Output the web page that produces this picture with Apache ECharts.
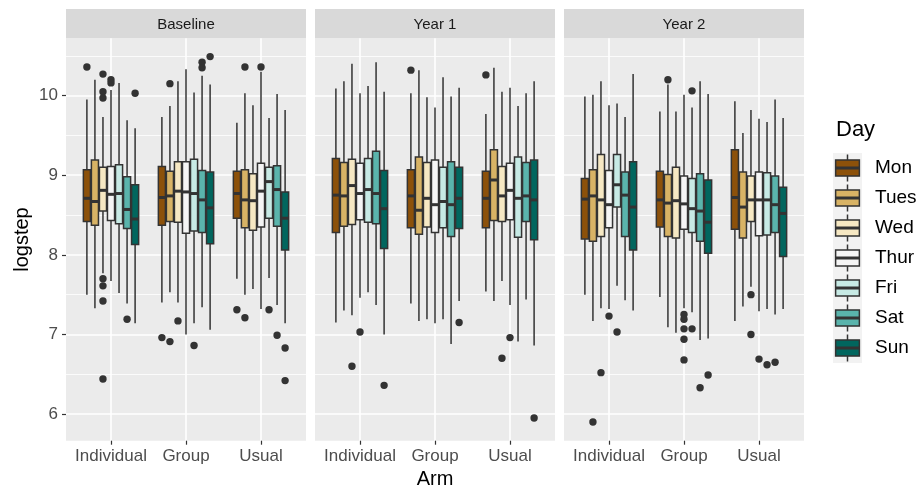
<!DOCTYPE html>
<html><head><meta charset="utf-8">
<script src="https://cdn.jsdelivr.net/npm/echarts@6/dist/echarts.min.js"></script>
<style>html,body{margin:0;padding:0;background:#fff}#chart{width:918px;height:488px}</style>
</head><body><div id="chart"></div>
<script>
// ---------- data ----------
const panels = ['Baseline', 'Year 1', 'Year 2'];
const arms = ['Individual', 'Group', 'Usual'];
const days = ['Mon', 'Tues', 'Wed', 'Thur', 'Fri', 'Sat', 'Sun'];
const yTicks = [6, 7, 8, 9, 10];
const yMinorTicks = [6.5, 7.5, 8.5, 9.5, 10.5];

// box stats per day: [lower whisker, q1, median, q3, upper whisker]
const baselineIndividual = [
  [7.50, 8.42, 8.71, 9.07, 9.95], [7.33, 8.37, 8.67, 9.19, 10.20], [7.77, 8.55, 8.81, 9.10, 9.73],
  [7.67, 8.43, 8.76, 9.11, 10.07], [7.52, 8.39, 8.77, 9.13, 10.16], [7.39, 8.33, 8.57, 8.98, 9.69],
  [7.14, 8.13, 8.45, 8.88, 9.59]];
const baselineGroup = [
  [7.40, 8.37, 8.72, 9.11, 9.73], [7.53, 8.42, 8.74, 9.05, 9.87], [7.40, 8.41, 8.80, 9.17, 10.18],
  [7.00, 8.27, 8.79, 9.17, 10.33], [7.14, 8.30, 8.77, 9.20, 10.04], [7.34, 8.28, 8.69, 9.06, 10.25],
  [7.06, 8.14, 8.59, 9.04, 10.14]];
const baselineUsual = [
  [7.70, 8.46, 8.77, 9.05, 9.66], [7.50, 8.34, 8.69, 9.07, 10.03], [7.57, 8.31, 8.68, 9.02, 9.88],
  [7.32, 8.35, 8.80, 9.15, 10.30], [7.71, 8.46, 8.92, 9.10, 9.72], [7.37, 8.36, 8.82, 9.12, 10.02],
  [7.14, 8.06, 8.46, 8.79, 9.82]];
const year1Individual = [
  [7.15, 8.28, 8.75, 9.21, 10.09], [7.30, 8.36, 8.74, 9.16, 10.18], [7.24, 8.38, 8.87, 9.20, 10.40],
  [7.46, 8.44, 8.77, 9.15, 10.03], [7.53, 8.41, 8.82, 9.21, 10.12], [7.37, 8.39, 8.77, 9.30, 10.42],
  [7.00, 8.08, 8.58, 9.06, 10.05]];
const year1Group = [
  [7.39, 8.34, 8.74, 9.07, 10.03], [7.17, 8.26, 8.56, 9.23, 10.32], [7.19, 8.35, 8.71, 9.16, 9.98],
  [7.14, 8.28, 8.63, 9.19, 9.85], [7.19, 8.34, 8.67, 9.10, 10.23], [6.88, 8.23, 8.63, 9.17, 9.99],
  [7.42, 8.33, 8.71, 9.10, 10.10]];
const year1Usual = [
  [7.54, 8.34, 8.71, 9.05, 9.77], [7.42, 8.43, 8.94, 9.32, 10.35], [7.67, 8.42, 8.74, 9.11, 10.05],
  [7.37, 8.44, 8.81, 9.15, 10.10], [6.91, 8.22, 8.71, 9.23, 9.87], [7.44, 8.42, 8.74, 9.16, 10.03],
  [6.86, 8.19, 8.69, 9.19, 10.18]];
const year2Individual = [
  [7.50, 8.20, 8.70, 8.96, 9.99], [7.17, 8.17, 8.74, 9.07, 10.01], [7.33, 8.23, 8.69, 9.26, 10.18],
  [7.32, 8.34, 8.63, 9.06, 9.88], [7.61, 8.60, 8.88, 9.26, 9.90], [7.43, 8.23, 8.75, 9.04, 9.73],
  [7.30, 8.06, 8.60, 9.17, 10.27]];
const year2Group = [
  [7.47, 8.35, 8.69, 9.05, 9.80], [7.09, 8.23, 8.65, 9.01, 10.14], [7.02, 8.21, 8.68, 9.10, 9.80],
  [7.33, 8.32, 8.64, 8.99, 10.01], [7.28, 8.28, 8.58, 8.96, 9.85], [6.93, 8.17, 8.55, 9.02, 10.18],
  [6.95, 8.02, 8.41, 8.94, 10.02]];
const year2Usual = [
  [7.17, 8.32, 8.72, 9.32, 9.93], [7.35, 8.21, 8.60, 9.04, 9.53], [7.60, 8.42, 8.69, 8.99, 9.82],
  [7.29, 8.24, 8.69, 9.04, 9.71], [7.32, 8.25, 8.69, 9.03, 9.67], [7.25, 8.28, 8.63, 8.99, 9.95],
  [7.32, 7.98, 8.52, 8.85, 9.72]];

// outliers: [arm index, day index, value]
const baselineOutliers = [
  [0,0,10.36],[0,2,10.27],[0,2,10.05],[0,2,9.97],[0,2,7.70],[0,2,7.61],[0,2,7.42],[0,2,6.44],
  [0,3,10.20],[0,3,10.16],[0,5,7.19],[0,6,10.03],
  [1,0,6.96],[1,1,10.15],[1,1,6.91],[1,2,7.17],[1,4,6.86],[1,5,10.42],[1,5,10.35],[1,6,10.49],
  [2,0,7.31],[2,1,10.36],[2,1,7.21],[2,3,10.36],[2,4,7.31],[2,5,6.99],[2,6,6.83],[2,6,6.42]];
const year1Outliers = [
  [0,2,6.60],[0,3,7.03],[0,6,6.36],[1,0,10.32],[1,6,7.15],
  [2,0,10.26],[2,2,6.70],[2,3,6.96],[2,6,5.95]];
const year2Outliers = [
  [0,1,5.90],[0,2,6.52],[0,3,7.23],[0,4,7.03],
  [1,1,10.20],[1,3,7.25],[1,3,7.19],[1,3,7.07],[1,3,6.94],[1,3,6.68],[1,4,10.06],[1,4,7.07],[1,5,6.33],[1,6,6.49],
  [2,2,7.50],[2,2,7.00],[2,3,6.69],[2,4,6.62],[2,5,6.65]];

// ---------- style / layout ----------
const dayColors = ['#8C510A', '#D8B365', '#F6E8C3', '#F5F5F5', '#C7EAE5', '#5AB4AC', '#01665E'];
const FONT = '"Liberation Sans", Arial, Helvetica, sans-serif';
const INK = '#333333';
const DODGE = 0.75, NDAY = days.length, STEP = DODGE / NDAY;
const Y_MIN = 5.665, Y_MAX = 10.72;

const panelStats = [
  [baselineIndividual, baselineGroup, baselineUsual],
  [year1Individual, year1Group, year1Usual],
  [year2Individual, year2Group, year2Usual]];
const panelOutliers = [baselineOutliers, year1Outliers, year2Outliers];

function boxData(p) {
  const out = [];
  panelStats[p].forEach((armStats, a) => {
    armStats.forEach((s, d) => out.push([a + 1, d].concat(s)));
  });
  return out;
}
function outlierData(p) {
  return panelOutliers[p].map(o => [o[0] + 1, o[1], o[2]]);
}

function renderBox(params, api) {
  const d = api.value(1);
  const x = api.value(0) + (d - (NDAY - 1) / 2) * STEP;
  const w = api.size([STEP * 0.88, 0])[0];
  const lo = api.coord([x, api.value(2)]);
  const q1 = api.coord([x, api.value(3)]);
  const md = api.coord([x, api.value(4)]);
  const q3 = api.coord([x, api.value(5)]);
  const hi = api.coord([x, api.value(6)]);
  const ls = { stroke: INK, lineWidth: 1.5 };
  return { type: 'group', children: [
    { type: 'line', shape: { x1: hi[0], y1: hi[1], x2: q3[0], y2: q3[1] }, style: ls },
    { type: 'line', shape: { x1: q1[0], y1: q1[1], x2: lo[0], y2: lo[1] }, style: ls },
    { type: 'rect', shape: { x: q3[0] - w / 2, y: q3[1], width: w, height: q1[1] - q3[1] },
      style: { fill: dayColors[d], stroke: INK, lineWidth: 1.5 } },
    { type: 'line', shape: { x1: md[0] - w / 2, y1: md[1], x2: md[0] + w / 2, y2: md[1] },
      style: { stroke: INK, lineWidth: 3 } }
  ]};
}
function renderOutlier(params, api) {
  const d = api.value(1);
  const x = api.value(0) + (d - (NDAY - 1) / 2) * STEP;
  const c = api.coord([x, api.value(2)]);
  return { type: 'circle', shape: { cx: c[0], cy: c[1], r: 3.7 }, style: { fill: INK } };
}
function renderKey(params, api) {
  const d = api.value(1);
  const c = api.coord([0.5, d]);
  const bh = api.size([0, 1])[1];
  const w = api.size([0.82, 0])[0];
  const ls = { stroke: INK, lineWidth: 1.5 };
  return { type: 'group', children: [
    { type: 'line', shape: { x1: c[0], y1: c[1] - bh * 0.45, x2: c[0], y2: c[1] + bh * 0.45 }, style: ls },
    { type: 'rect', shape: { x: c[0] - w / 2, y: c[1] - bh * 0.27, width: w, height: bh * 0.54 },
      style: { fill: dayColors[d], stroke: INK, lineWidth: 1.5 } },
    { type: 'line', shape: { x1: c[0] - w / 2, y1: c[1], x2: c[0] + w / 2, y2: c[1] },
      style: { stroke: INK, lineWidth: 3 } }
  ]};
}

const PANEL_LEFT = [66, 315, 564], PANEL_W = 240, PANEL_TOP = 38.3, PANEL_H = 402.4;
const grid = [], xAxis = [], yAxis = [], series = [];

// panel grids 0..2
PANEL_LEFT.forEach(l => grid.push({ left: l, top: PANEL_TOP, width: PANEL_W, height: PANEL_H,
  show: true, backgroundColor: '#EBEBEB', borderWidth: 0, containLabel: false, outerBoundsMode: 'none' }));
// strip grids 3..5
PANEL_LEFT.forEach(l => grid.push({ left: l, top: 9, width: PANEL_W, height: 29.3,
  show: true, backgroundColor: '#D9D9D9', borderWidth: 0, containLabel: false, outerBoundsMode: 'none' }));
// legend key grid 6
grid.push({ left: 833, top: 153, width: 29, height: 210, show: true, backgroundColor: '#F2F2F2',
  borderWidth: 0, containLabel: false, outerBoundsMode: 'none' });

// x axes
PANEL_LEFT.forEach((l, i) => {
  const ax = {
    type: 'value', gridIndex: i, min: 0.4, max: 3.6,
    axisLine: { show: false },
    axisTick: { show: true, customValues: [1, 2, 3], length: 4, lineStyle: { color: INK, width: 1.2 } },
    axisLabel: { show: true, customValues: [1, 2, 3], formatter: v => arms[Math.round(v) - 1],
      color: '#4D4D4D', fontSize: 17, fontFamily: FONT, margin: 7 },
    splitLine: { show: true, lineStyle: { color: '#FFFFFF', width: 1.6 } }
  };
  if (i === 1) {
    ax.name = 'Arm'; ax.nameLocation = 'middle'; ax.nameGap = 28;
    ax.nameTextStyle = { fontSize: 20, color: '#000', fontFamily: FONT };
  }
  xAxis.push(ax);
});
panels.forEach((p, i) => xAxis.push({
  type: 'category', gridIndex: 3 + i, data: [p], position: 'top',
  axisLine: { show: false }, axisTick: { show: false }, splitLine: { show: false },
  axisLabel: { inside: true, margin: 8.5, fontSize: 15, color: '#1A1A1A', fontFamily: FONT }
}));
xAxis.push({ type: 'value', gridIndex: 6, min: 0, max: 1, show: false });

// y axes
PANEL_LEFT.forEach((l, i) => {
  const ax = {
    type: 'value', gridIndex: i, min: Y_MIN, max: Y_MAX, position: 'left',
    axisLine: { show: false },
    axisTick: { show: i === 0, customValues: yTicks, length: 4, lineStyle: { color: INK, width: 1.2 } },
    axisLabel: { show: i === 0, customValues: yTicks, color: '#4D4D4D', fontSize: 17, fontFamily: FONT, margin: 8 },
    splitLine: { show: true, lineStyle: { color: '#FFFFFF', width: 1.6 } }
  };
  if (i === 0) {
    ax.name = 'logstep'; ax.nameLocation = 'middle'; ax.nameGap = 34;
    ax.nameTextStyle = { fontSize: 20, color: '#000', fontFamily: FONT };
  }
  yAxis.push(ax);
});
PANEL_LEFT.forEach((l, i) => yAxis.push({
  type: 'value', gridIndex: i, min: Y_MIN, max: Y_MAX, position: 'right',
  axisLine: { show: false }, axisLabel: { show: false },
  axisTick: { show: false, customValues: yMinorTicks },
  splitLine: { show: true, lineStyle: { color: '#FFFFFF', width: 0.8 } }
}));
panels.forEach((p, i) => yAxis.push({ type: 'value', gridIndex: 3 + i, show: false }));
yAxis.push({
  type: 'category', gridIndex: 6, data: days, inverse: true, position: 'right',
  axisLine: { show: false }, axisTick: { show: false }, splitLine: { show: false },
  axisLabel: { color: '#000', fontSize: 19, fontFamily: FONT, margin: 13 }
});

// series
panels.forEach((p, i) => {
  series.push({ type: 'custom', name: p + ' boxes', xAxisIndex: i, yAxisIndex: i,
    encode: { x: 0, y: [2, 3, 4, 5, 6] }, data: boxData(i), renderItem: renderBox, z: 2 });
  series.push({ type: 'custom', name: p + ' outliers', xAxisIndex: i, yAxisIndex: i,
    encode: { x: 0, y: 2 }, data: outlierData(i), renderItem: renderOutlier, z: 3 });
});
series.push({ type: 'custom', name: 'Day key', xAxisIndex: 6, yAxisIndex: 9,
  data: days.map((d, k) => [0.5, k]), renderItem: renderKey, z: 3 });

const chart = echarts.init(document.getElementById('chart'), null, { renderer: 'canvas' });
chart.setOption({
  animation: false,
  backgroundColor: '#FFFFFF',
  textStyle: { fontFamily: FONT },
  title: { text: 'Day', left: 831, top: 114,
    textStyle: { fontSize: 22, fontWeight: 'normal', color: '#000', fontFamily: FONT } },
  grid, xAxis, yAxis, series
});
</script></body></html>
